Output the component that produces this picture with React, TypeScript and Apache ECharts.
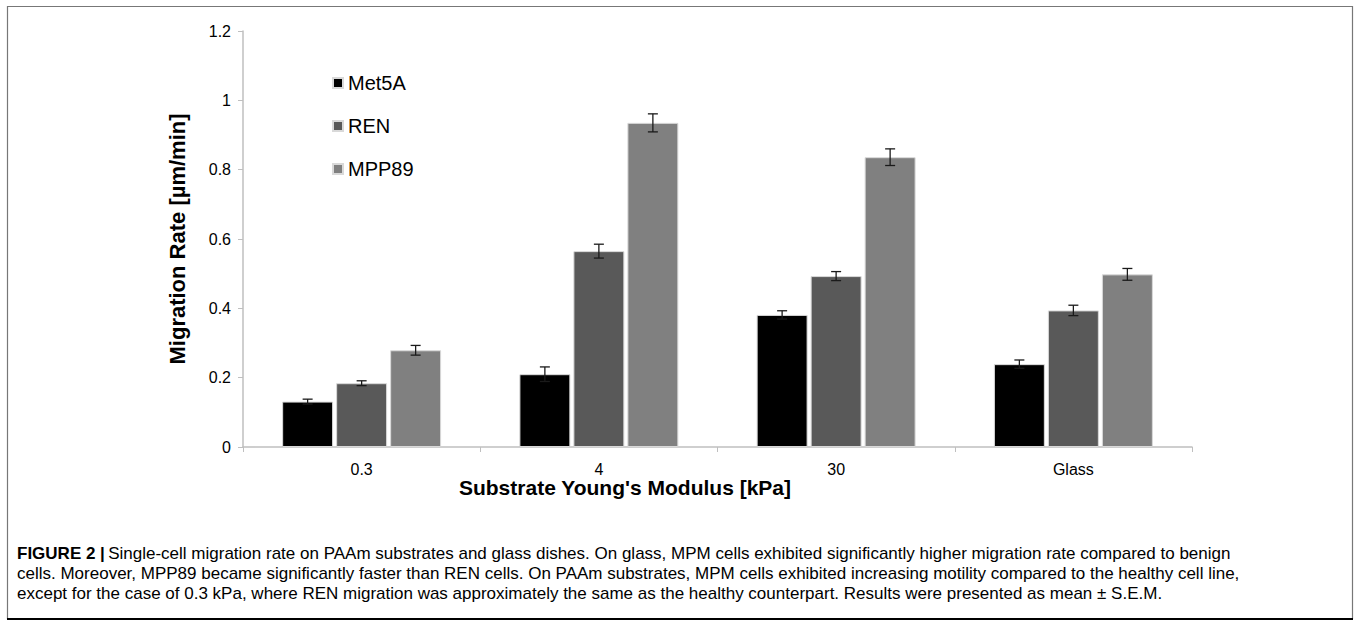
import React, { useEffect, useRef } from "react";
import * as echarts from "echarts";

const categories = ["0.3", "4", "30", "Glass"];
const seriesNames = ["Met5A", "REN", "MPP89"];
const met5a = [0.131, 0.21, 0.381, 0.239];
const ren = [0.184, 0.565, 0.493, 0.394];
const mpp89 = [0.279, 0.935, 0.836, 0.498];
const met5aErr = [0.007, 0.021, 0.012, 0.012];
const renErr = [0.007, 0.02, 0.013, 0.015];
const mpp89Err = [0.014, 0.026, 0.024, 0.017];
const colors = ["#000000", "#595959", "#808080"];
const yTicks = { min: 0, max: 1.2, interval: 0.2 };
const xTitle = "Substrate Young's Modulus [kPa]";
const yTitle = "Migration Rate [µm/min]";
const captionLabel = "FIGURE 2 |";
const captionLines = [
  "Single-cell migration rate on PAAm substrates and glass dishes. On glass, MPM cells exhibited significantly higher migration rate compared to benign",
  "cells. Moreover, MPP89 became significantly faster than REN cells. On PAAm substrates, MPM cells exhibited increasing motility compared to the healthy cell line,",
  "except for the case of 0.3 kPa, where REN migration was approximately the same as the healthy counterpart. Results were presented as mean ± S.E.M.",
];

export default function App() {
  const ref = useRef<HTMLDivElement>(null);
  useEffect(() => {
    const chart = echarts.init(ref.current!, undefined, { renderer: "svg" });
    const values = [met5a, ren, mpp89];
    const errs = [met5aErr, renErr, mpp89Err];
    const barSeries = seriesNames.map((name, i) => ({
      name,
      type: "bar",
      data: values[i],
      barGap: "6%",
      barCategoryGap: "33%",
      itemStyle: { color: colors[i], borderColor: "#d9d9d9", borderWidth: 1 },
      z: 2,
    }));
    const errSeries = seriesNames.map((name, i) => ({
      name: name + "_err",
      type: "custom",
      z: 5,
      data: values[i].map((v, j) => [j, v - errs[i][j], v + errs[i][j]]),
      renderItem: (params: any, api: any) => {
        const idx = api.value(0);
        const lo = api.coord([idx, api.value(1)]);
        const hi = api.coord([idx, api.value(2)]);
        const band = api.size([1, 0])[0];
        const barW = (band * 0.67) / (3 + 2 * 0.06);
        const offset = (i - 1) * barW * 1.06;
        const x = lo[0] + offset;
        const cap = 5;
        const st = { stroke: "#1a1a1a", lineWidth: 1.3 };
        return {
          type: "group",
          children: [
            { type: "line", shape: { x1: x, y1: lo[1], x2: x, y2: hi[1] }, style: st },
            { type: "line", shape: { x1: x - cap, y1: hi[1], x2: x + cap, y2: hi[1] }, style: st },
            { type: "line", shape: { x1: x - cap, y1: lo[1], x2: x + cap, y2: lo[1] }, style: st },
          ],
        };
      },
    }));
    const capFont = "Liberation Sans, Arial, sans-serif";
    chart.setOption({
      animation: false,
      textStyle: { fontFamily: "Liberation Sans, Arial, sans-serif" },
      legend: {
        data: seriesNames,
        orient: "vertical",
        left: 332,
        top: 73,
        padding: 0,
        itemWidth: 10,
        itemHeight: 10,
        itemGap: 23,
        icon: "rect",
        textStyle: { fontSize: 20, color: "#000" },
      },
      grid: { left: 243, top: 31, right: 164, bottom: 174, containLabel: false },
      xAxis: {
        type: "category",
        data: categories,
        axisLine: { lineStyle: { color: "#bfbfbf", width: 1.5 } },
        axisTick: { show: true, length: 5, lineStyle: { color: "#bfbfbf" } },
        axisLabel: { fontSize: 16, color: "#000", margin: 14 },
      },
      yAxis: {
        type: "value",
        min: yTicks.min,
        max: yTicks.max,
        interval: yTicks.interval,
        axisLine: { show: true, lineStyle: { color: "#bfbfbf", width: 1.5 } },
        axisTick: { show: true, length: 5, lineStyle: { color: "#bfbfbf" } },
        splitLine: { show: false },
        axisLabel: { fontSize: 16, color: "#000", margin: 12 },
        name: yTitle,
        nameLocation: "middle",
        nameGap: 55,
        nameTextStyle: { fontSize: 22, fontWeight: "bold", color: "#000" },
      },
      series: [...barSeries, ...errSeries],
      graphic: [
        {
          type: "rect",
          shape: { x: 7.5, y: 6.5, width: 1345, height: 612 },
          style: { fill: "none", stroke: "#777", lineWidth: 1.2 },
          silent: true,
        },
        {
          type: "line",
          shape: { x1: 7, y1: 619, x2: 1353, y2: 619 },
          style: { stroke: "#000", lineWidth: 1.8 },
          silent: true,
        },
        {
          type: "text",
          x: 625,
          y: 487,
          style: {
            text: xTitle,
            font: "bold 21px Liberation Sans, Arial, sans-serif",
            fill: "#000",
            align: "center",
            verticalAlign: "middle",
          },
        },
        {
          type: "text",
          x: 17,
          y: 543,
          style: {
            text:
              "{b|" + captionLabel + "} {n|" + captionLines[0] + "}\n{n|" + captionLines[1] + "}\n{n|" + captionLines[2] + "}",
            rich: {
              b: { fontWeight: "bold", fontSize: 17, fontFamily: capFont, lineHeight: 20, fill: "#000" },
              n: { fontSize: 17, fontFamily: capFont, lineHeight: 20, fill: "#000" },
            },
          },
        },
      ],
    });
    return () => chart.dispose();
  }, []);
  return <div ref={ref} style={{ position: "absolute", left: 0, top: 0, width: 1356, height: 621 }} />;
}
